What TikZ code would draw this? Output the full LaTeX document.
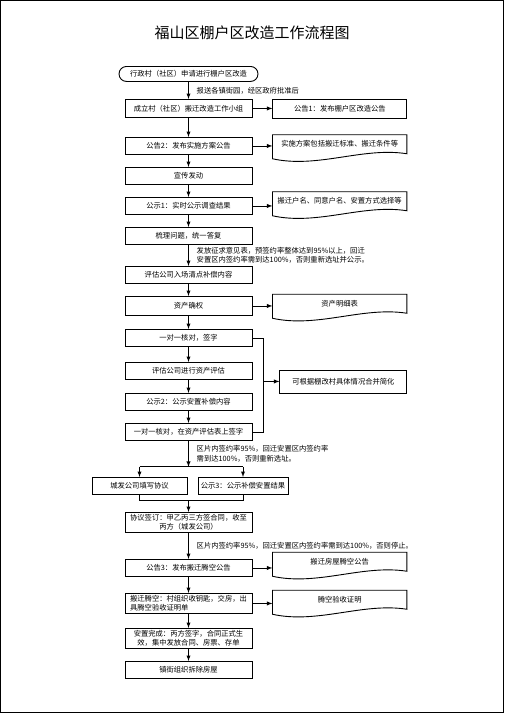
\documentclass[tikz,border=0pt]{standalone}
\usepackage{fontspec}
\setmainfont{Noto Sans CJK SC}
\usepackage{tikz}
\usetikzlibrary{arrows}
\usetikzlibrary{shapes,calc,positioning}

\newcommand{\docline}[1]{\draw[line width=0.9pt] (#1.north west) -- (#1.north east) -- ([yshift=-19pt]#1.north east) .. controls ([xshift=-44pt,yshift=-12pt]#1.north east) and ([xshift=45pt,yshift=-34pt]#1.north west) .. ([yshift=-24pt]#1.north west) -- cycle;}

\begin{document}
\begin{tikzpicture}[x=1pt, y=-1pt, >=latex,
  box/.style={draw, line width=0.9pt, minimum width=127pt, minimum height=17pt, inner sep=1.5pt, align=center, font=\fontsize{7.3}{9.5}\selectfont},
  doc/.style={minimum width=134pt, minimum height=18pt, inner sep=1.5pt, align=center, font=\fontsize{7.3}{9.5}\selectfont},
  note/.style={anchor=west, align=left, inner sep=0pt, font=\fontsize{7.3}{9.5}\selectfont},
  line/.style={line width=0.9pt}]
\useasboundingbox (0,0) rectangle (504,713);
\draw[line width=1pt] (0.5,0.5) rectangle (503.5,712.5);

\coordinate(O1) at (188.5,0);
\node[font=\fontsize{15}{18}\selectfont](title) at (252,33) {福山区棚户区改造工作流程图};

\node[below=66pt of O1, box, minimum width=139pt, minimum height=15pt, rounded corners=7.5pt](b0) {行政村（社区）申请进行棚户区改造};
\node[below=99pt of O1, box, minimum height=18pt](b1) {成立村（社区）搬迁改造工作小组};
\node[below=137pt of O1, box](b2) {公告2：发布实施方案公告};
\node[below=167pt of O1, box](b3) {宣传发动};
\node[below=197pt of O1, box](b4) {公示1：实时公示调查结果};
\node[below=227pt of O1, box](b5) {梳理问题，统一答复};
\node[below=266pt of O1, box](b6) {评估公司入场清点补偿内容};
\node[below=296pt of O1, box, minimum height=19pt](b7) {资产确权};
\node[below=329pt of O1, box](b8) {一对一核对，签字};
\node[below=362pt of O1, box](b9) {评估公司进行资产评估};
\node[below=393pt of O1, box](b10) {公示2：公示安置补偿内容};
\node[below=423pt of O1, box](b11) {一对一核对，在资产评估表上签字};
\node[below=477pt of O1, xshift=-49pt, box, minimum width=95pt](b12) {城发公司填写协议};
\node[below=477pt of O1, xshift=54.5pt, box, minimum width=90pt](b13) {公示3：公示补偿安置结果};
\node[below=512pt of O1, box, minimum height=20pt](b14) {协议签订：甲乙丙三方签合同，收至\\丙方（城发公司）};
\node[below=559pt of O1, box](b15) {公告3：发布搬迁腾空公告};
\node[below=593pt of O1, box, minimum height=20pt, align=left](b16) {搬迁腾空：村组织收钥匙，交房，出\\具腾空验收证明单};
\node[below=628pt of O1, box, minimum height=20pt](b17) {安置完成：丙方签字，合同正式生\\效，集中发放合同、房票、存单};
\node[below=661pt of O1, box](b18) {镇街组织拆除房屋};

\node[right=20pt of b1, box, minimum width=134pt, minimum height=19pt](r1) {公告1：发布棚户区改造公告};
\node[right=27pt of b9, yshift=-10.5pt, box, minimum height=23pt](m) {可根据棚改村具体情况合并简化};

\node[right=20pt of b2, yshift=2pt, doc](d1) {实施方案包括搬迁标准、搬迁条件等};
\node[right=20pt of b4, yshift=5pt, doc](d2) {搬迁户名、同意户名、安置方式选择等};
\node[right=20pt of b7, yshift=2.5pt, doc](d3) {资产明细表};
\node[right=20pt of b15, yshift=6.5pt, doc](d4) {搬迁房屋腾空公告};
\node[right=20pt of b16, yshift=4pt, doc](d5) {腾空验收证明};
\docline{d1}
\docline{d2}
\docline{d3}
\docline{d4}
\docline{d5}

% main column
\draw[->, line] (b0) -- (b1);
\draw[->, line] (b1) -- (b2);
\draw[->, line] (b2) -- (b3);
\draw[->, line] (b3) -- (b4);
\draw[->, line] (b4) -- (b5);
\draw[->, line] (b5) -- (b6);
\draw[->, line] (b6) -- (b7);
\draw[->, line] (b7) -- (b8);
\draw[->, line] (b8) -- (b9);
\draw[->, line] (b9) -- (b10);
\draw[->, line] (b10) -- (b11);
\draw[->, line] (b14) -- (b15);
\draw[->, line] (b15) -- (b16);
\draw[->, line] (b16) -- (b17);
\draw[->, line] (b17) -- (b18);

% side boxes
\draw[->, line] (b1) -- (r1);
\draw[->, line] (b2.east) -- (d1.west |- b2.east);
\draw[->, line] (b4.east) -- (d2.west |- b4.east);
\draw[->, line] (b7.east) -- (d3.west |- b7.east);
\draw[->, line] (b15.east) -- (d4.west |- b15.east);
\draw[->, line] (b16.east) -- (d5.west |- b16.east);

% bracket
\coordinate[right=11pt of b8.east](k1);
\draw[line] (b8.east) -- (k1) |- (b11.east);
\draw[->, line] (k1 |- m.west) -- (m.west);

% split and merge
\coordinate[below=26pt of b11.south](s1);
\draw[->, line] (b11.south) -- (s1);
\draw[line] (b12.north |- s1) -- (b13.north |- s1);
\draw[->, line] (b12.north |- s1) -- (b12.north);
\draw[->, line] (b13.north |- s1) -- (b13.north);
\draw[line] (b12.south) -- ++(0,6) coordinate (j1) -| (b13.south);
\draw[->, line] (j1 -| b14.north) -- (b14.north);

% notes
\node[note, xshift=8pt](n1) at ($(b0.south)!0.5!(b1.north)$) {报送各镇街园，经区政府批准后};
\node[note, xshift=8pt](n2) at ($(b5.south)!0.5!(b6.north)$) {发放征求意见表，预签约率整体达到95\%以上，回迁\\安置区内签约率需到达100\%，否则重新选址并公示。};
\node[note, xshift=8pt](n3) at ($(b11.south)!0.5!(s1)$) {区片内签约率95\%，回迁安置区内签约率\\需到达100\%，否则重新选址。};
\node[note, xshift=8pt](n4) at ($(b14.south)!0.5!(b15.north)$) {区片内签约率95\%，回迁安置区内签约率需到达100\%，否则停止。};
\end{tikzpicture}
\end{document}
